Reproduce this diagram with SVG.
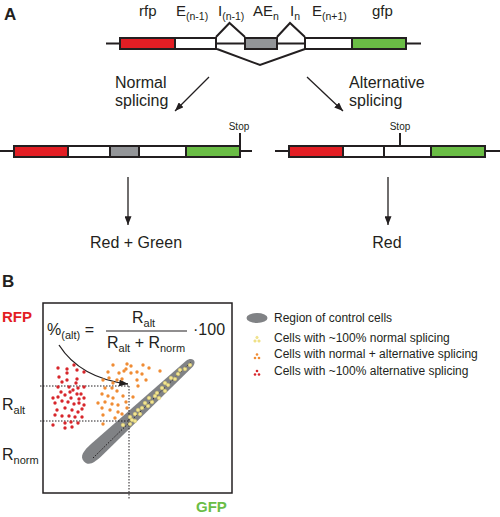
<svg xmlns="http://www.w3.org/2000/svg" width="500" height="517" viewBox="0 0 500 517">
<defs>
<marker id="ah" viewBox="0 0 10 8" refX="10" refY="4" markerWidth="9" markerHeight="7" markerUnits="userSpaceOnUse" orient="auto">
<path d="M0,0 L10,4 L0,8 Z" fill="#231f20"/>
</marker>
<style>
text{font-family:"Liberation Sans",Arial,sans-serif;fill:#231f20}
.lab{font-size:15px}
.big{font-size:16px}
.sub{font-size:10.5px}
.stop{font-size:10px}
.leg{font-size:12px}
.hd{font-size:17px;font-weight:bold}
.line{stroke:#231f20;stroke-width:2;fill:none}
.box{stroke:#231f20;stroke-width:2}
.r{fill:#e31e24}.w{fill:#ffffff}.g{fill:#939598}.gr{fill:#6abd45}
.arr{stroke:#231f20;stroke-width:1.3;fill:none;marker-end:url(#ah)}
.dot{stroke:#231f20;stroke-width:1;stroke-dasharray:1.5 1.5;fill:none}
.rd{fill:#d7262b}.od{fill:#f08c34}.yd{fill:#f2e590;stroke:#e6d46a;stroke-width:0.4}
</style>
</defs>

<text class="hd" x="4" y="20">A</text>
<text class="hd" x="2" y="287">B</text>

<g id="labels-top">
<text class="lab" x="139" y="16">rfp</text>
<text class="lab" x="176" y="16">E<tspan class="sub" dy="4">(n-1)</tspan></text>
<text class="lab" x="218" y="16">I<tspan class="sub" dy="4">(n-1)</tspan></text>
<text class="lab" x="253" y="16">AE<tspan class="sub" dy="4">n</tspan></text>
<text class="lab" x="290" y="16">I<tspan class="sub" dy="4">n</tspan></text>
<text class="lab" x="312" y="16">E<tspan class="sub" dy="4">(n+1)</tspan></text>
<text class="lab" x="372" y="16">gfp</text>
</g>

<g id="gene-top">
<line class="line" x1="106" y1="43.5" x2="421" y2="43.5"/>
<rect class="box r" x="120" y="38" width="55" height="11"/>
<rect class="box w" x="175" y="38" width="41" height="11"/>
<rect class="box g" x="245" y="38" width="32" height="11"/>
<rect class="box w" x="305" y="38" width="47" height="11"/>
<rect class="box gr" x="352" y="38" width="54" height="11"/>
<polyline class="line" stroke-width="1.3" points="216,37 229.5,23 245,37"/>
<polyline class="line" stroke-width="1.3" points="277,37 290,23 305,37"/>
<polyline class="line" stroke-width="1.3" points="217,49 260,65 305,49"/>
</g>

<g id="connectors">
<line class="arr" x1="209" y1="77" x2="175" y2="111"/>
<line class="arr" x1="307" y1="77" x2="343" y2="111"/>
<line class="arr" x1="128" y1="177" x2="128" y2="225"/>
<line class="arr" x1="388" y1="177" x2="388" y2="225"/>
<path class="arr" d="M59,345 Q80,378 128,384"/>
</g>

<text class="big" x="115" y="88">Normal</text>
<text class="big" x="115" y="106">splicing</text>
<text class="big" x="349" y="88">Alternative</text>
<text class="big" x="349" y="106">splicing</text>

<g id="gene-normal">
<line class="line" x1="0" y1="151" x2="252" y2="151"/>
<rect class="box r" x="14" y="146" width="54" height="11"/>
<rect class="box w" x="68" y="146" width="42" height="11"/>
<rect class="box g" x="110" y="146" width="29" height="11"/>
<rect class="box w" x="139" y="146" width="47" height="11"/>
<rect class="box gr" x="186" y="146" width="54" height="11"/>
<line class="line" stroke-width="1" x1="240" y1="133" x2="240" y2="146"/>
<text class="stop" x="239" y="130" text-anchor="middle">Stop</text>
</g>

<g id="gene-alt">
<line class="line" x1="275" y1="151" x2="500" y2="151"/>
<rect class="box r" x="289" y="146" width="54" height="11"/>
<rect class="box w" x="343" y="146" width="41" height="11"/>
<rect class="box w" x="384" y="146" width="47" height="11"/>
<rect class="box gr" x="431" y="146" width="54" height="11"/>
<line class="line" stroke-width="1" x1="400" y1="133" x2="400" y2="146"/>
<text class="stop" x="400" y="130" text-anchor="middle">Stop</text>
</g>

<text class="big" x="136" y="248" text-anchor="middle">Red + Green</text>
<text class="big" x="387" y="248" text-anchor="middle">Red</text>

<g id="plot">
<rect x="43" y="303" width="189" height="190" fill="none" stroke="#231f20" stroke-width="1.5"/>
<text x="2" y="322" style="font-size:15px;font-weight:bold;fill:#e31e24">RFP</text>
<text x="196" y="512" style="font-size:15px;font-weight:bold;fill:#6abd45">GFP</text>
<text class="big" x="2" y="410">R<tspan class="sub" style="font-size:11px" dy="4">alt</tspan></text>
<text class="big" x="2" y="460">R<tspan class="sub" style="font-size:11px" dy="4">norm</tspan></text>

<text class="big" x="47" y="335">%<tspan style="font-size:11px" dy="4">(alt)</tspan><tspan dy="-4"> =</tspan></text>
<text class="big" x="132" y="323">R<tspan style="font-size:11px" dy="4">alt</tspan></text>
<line x1="106" y1="331" x2="187" y2="331" stroke="#231f20" stroke-width="1.2"/>
<text class="big" x="107" y="348">R<tspan style="font-size:11px" dy="4">alt</tspan><tspan dy="-4"> + R</tspan><tspan style="font-size:11px" dy="4">norm</tspan></text>
<text class="big" x="193" y="335">·100</text>

<path transform="translate(139 410.5) rotate(-42.8)" d="M-75,0 C-75,-7 -68,-8 -58,-8 L68,-4.5 C76,-4 77,4 68,4.5 L-58,8 C-68,8 -75,7 -75,0 Z" fill="#808285"/>
<line class="dot" x1="93" y1="458" x2="191" y2="362"/>
<line class="dot" x1="40" y1="386" x2="129" y2="386"/>
<line class="dot" x1="40" y1="421" x2="129" y2="421"/>
<line class="dot" x1="129" y1="386" x2="129" y2="499"/>

<g id="red-dots" class="rd">
<circle cx="58" cy="368" r="1.7"/><circle cx="67" cy="369" r="1.7"/><circle cx="74" cy="365" r="1.7"/><circle cx="77" cy="370" r="1.7"/><circle cx="84" cy="372" r="1.7"/><circle cx="59" cy="377" r="1.7"/><circle cx="67" cy="373" r="1.7"/><circle cx="62" cy="382" r="1.7"/><circle cx="67" cy="380" r="1.7"/><circle cx="77" cy="379" r="1.7"/><circle cx="76" cy="383" r="1.7"/><circle cx="58" cy="387" r="1.7"/><circle cx="69" cy="387" r="1.7"/><circle cx="78" cy="388" r="1.7"/><circle cx="84" cy="387" r="1.7"/><circle cx="61" cy="392" r="1.7"/><circle cx="65" cy="395" r="1.7"/><circle cx="70" cy="392" r="1.7"/><circle cx="73" cy="390" r="1.7"/><circle cx="81" cy="394" r="1.7"/><circle cx="53" cy="398" r="1.7"/><circle cx="58" cy="397" r="1.7"/><circle cx="71" cy="398" r="1.7"/><circle cx="77" cy="394" r="1.7"/><circle cx="79" cy="399" r="1.7"/><circle cx="84" cy="398" r="1.7"/><circle cx="55" cy="403" r="1.7"/><circle cx="62" cy="401" r="1.7"/><circle cx="68" cy="402" r="1.7"/><circle cx="74" cy="404" r="1.7"/><circle cx="79" cy="403" r="1.7"/><circle cx="84" cy="405" r="1.7"/><circle cx="57" cy="410" r="1.7"/><circle cx="65" cy="408" r="1.7"/><circle cx="72" cy="410" r="1.7"/><circle cx="78" cy="412" r="1.7"/><circle cx="82" cy="409" r="1.7"/><circle cx="55" cy="415" r="1.7"/><circle cx="62" cy="416" r="1.7"/><circle cx="69" cy="416" r="1.7"/><circle cx="75" cy="417" r="1.7"/><circle cx="82" cy="417" r="1.7"/><circle cx="65" cy="423" r="1.7"/><circle cx="71" cy="422" r="1.7"/><circle cx="78" cy="423" r="1.7"/><circle cx="53" cy="425" r="1.7"/><circle cx="65" cy="428" r="1.7"/><circle cx="72" cy="427" r="1.7"/>
</g>
<g id="orange-dots" class="od">
<circle cx="113" cy="365" r="1.7"/><circle cx="127" cy="364" r="1.7"/><circle cx="131" cy="366" r="1.7"/><circle cx="143" cy="365" r="1.7"/><circle cx="160" cy="371" r="1.7"/><circle cx="108" cy="372" r="1.7"/><circle cx="119" cy="373" r="1.7"/><circle cx="124" cy="371" r="1.7"/><circle cx="131" cy="373" r="1.7"/><circle cx="137" cy="372" r="1.7"/><circle cx="142" cy="374" r="1.7"/><circle cx="149" cy="368" r="1.7"/><circle cx="103" cy="380" r="1.7"/><circle cx="109" cy="378" r="1.7"/><circle cx="117" cy="380" r="1.7"/><circle cx="122" cy="379" r="1.7"/><circle cx="137" cy="380" r="1.7"/><circle cx="146" cy="380" r="1.7"/><circle cx="105" cy="388" r="1.7"/><circle cx="112" cy="388" r="1.7"/><circle cx="117" cy="391" r="1.7"/><circle cx="138" cy="386" r="1.7"/><circle cx="102" cy="394" r="1.7"/><circle cx="108" cy="396" r="1.7"/><circle cx="113" cy="398" r="1.7"/><circle cx="123" cy="396" r="1.7"/><circle cx="133" cy="397" r="1.7"/><circle cx="98" cy="403" r="1.7"/><circle cx="105" cy="402" r="1.7"/><circle cx="112" cy="404" r="1.7"/><circle cx="118" cy="405" r="1.7"/><circle cx="126" cy="402" r="1.7"/><circle cx="102" cy="408" r="1.7"/><circle cx="110" cy="410" r="1.7"/><circle cx="118" cy="412" r="1.7"/><circle cx="127" cy="408" r="1.7"/><circle cx="103" cy="415" r="1.7"/><circle cx="115" cy="418" r="1.7"/><circle cx="122" cy="414" r="1.7"/><circle cx="103" cy="424" r="1.7"/><circle cx="126" cy="369" r="1.7"/><circle cx="113" cy="383" r="1.7"/>
</g>
<g id="yellow-dots" class="yd">
<circle cx="190" cy="365" r="1.8"/><circle cx="185" cy="369" r="1.8"/><circle cx="180" cy="370" r="1.8"/><circle cx="178" cy="374" r="1.8"/><circle cx="175" cy="379" r="1.8"/><circle cx="171" cy="378" r="1.8"/><circle cx="168" cy="385" r="1.8"/><circle cx="165" cy="383" r="1.8"/><circle cx="162" cy="388" r="1.8"/><circle cx="165" cy="391" r="1.8"/><circle cx="157" cy="393" r="1.8"/><circle cx="155" cy="396" r="1.8"/><circle cx="159" cy="398" r="1.8"/><circle cx="149" cy="398" r="1.8"/><circle cx="152" cy="402" r="1.8"/><circle cx="145" cy="403" r="1.8"/><circle cx="148" cy="406" r="1.8"/><circle cx="142" cy="408" r="1.8"/><circle cx="138" cy="410" r="1.8"/><circle cx="140" cy="414" r="1.8"/><circle cx="135" cy="414" r="1.8"/><circle cx="130" cy="417" r="1.8"/><circle cx="135" cy="421" r="1.8"/><circle cx="132" cy="420" r="1.8"/><circle cx="130" cy="424" r="1.8"/><circle cx="123" cy="425" r="1.8"/>
</g>
</g>

<g id="legend">
<ellipse cx="257" cy="318" rx="10.5" ry="5" fill="#808285"/>
<text class="leg" x="274" y="322">Region of control cells</text>
<g class="yd"><circle cx="257" cy="337.5" r="1.3"/><circle cx="255" cy="341" r="1.3"/><circle cx="259" cy="341" r="1.3"/></g>
<text class="leg" x="274" y="342">Cells with ~100% normal splicing</text>
<g class="od"><circle cx="257" cy="354.5" r="1.3"/><circle cx="255" cy="358" r="1.3"/><circle cx="259" cy="358" r="1.3"/></g>
<text class="leg" x="274" y="358">Cells with normal + alternative splicing</text>
<g class="rd"><circle cx="257" cy="371" r="1.3"/><circle cx="255" cy="374.5" r="1.3"/><circle cx="259" cy="374.5" r="1.3"/></g>
<text class="leg" x="274" y="375">Cells with ~100% alternative splicing</text>
</g>
</svg>
